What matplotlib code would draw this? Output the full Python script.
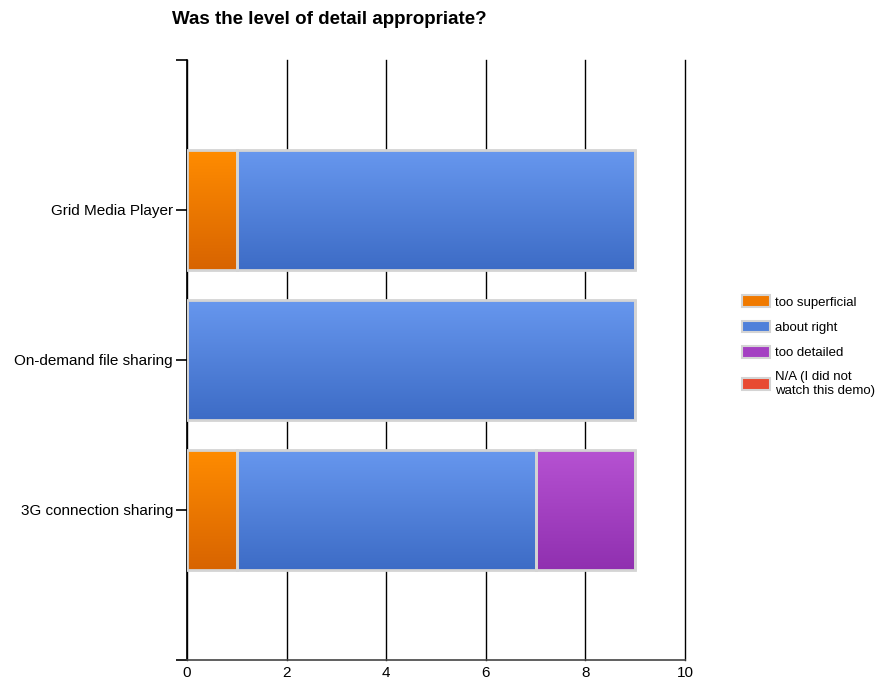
import matplotlib
matplotlib.use("Agg")
import matplotlib.pyplot as plt
import matplotlib.patches as mpatches
from matplotlib.colors import LinearSegmentedColormap
import numpy as np

plt.rcParams['font.family'] = ['Liberation Sans', 'DejaVu Sans']

categories = ["Grid Media Player", "On-demand file sharing", "3G connection sharing"]
series = ["too superficial", "about right", "too detailed", "N/A (I did not\nwatch this demo)"]
too_superficial = [1, 0, 1]
about_right = [8, 9, 6]
too_detailed = [0, 0, 2]
not_watched = [0, 0, 0]

# (top, bottom) gradient colours per series
shades = [("#ff8c00", "#d86400"),
          ("#6797ee", "#3d6cc6"),
          ("#b652d2", "#9030b0"),
          ("#f0553c", "#d83a28")]
legend_colors = ["#f07a00", "#4f80da", "#a440c2", "#e84a32"]

fig = plt.figure(figsize=(8.84, 6.9), dpi=100)
ax = fig.add_axes([187 / 884, 1 - 660 / 690, (685 - 187) / 884, 600 / 690])

ypos = np.arange(1, len(categories) + 1)
left = np.zeros(len(categories))
for vals, (top, bot) in zip([too_superficial, about_right, too_detailed, not_watched], shades):
    bars = ax.barh(ypos, vals, left=left, height=0.8, color=bot,
                   edgecolor="#d4d4d4", linewidth=2, zorder=3)
    cmap = LinearSegmentedColormap.from_list("g", [top, bot])
    for b in bars:
        if b.get_width() <= 0:
            continue
        x0, y0 = b.get_x(), b.get_y()
        im = ax.imshow(np.linspace(0, 1, 64).reshape(-1, 1), cmap=cmap, aspect="auto",
                       extent=[x0, x0 + b.get_width(), y0 + b.get_height(), y0],
                       zorder=2.5, interpolation="bicubic")
        im.set_clip_path(b)
        b.set_facecolor("none")
    left += np.array(vals)

ax.set_xlim(0, 10)
ax.set_ylim(4, 0)
ax.set_xticks([0, 2, 4, 6, 8, 10])
ax.set_yticks([0, 1, 2, 3, 4])
ax.set_yticklabels([""] + categories + [""])
ax.grid(axis="x", color="black", linewidth=1, zorder=0)
for gl in ax.get_xgridlines():
    gl.set_clip_on(False)
ax.set_axisbelow(True)
for s in ["top", "right"]:
    ax.spines[s].set_visible(False)
ax.spines["left"].set_linewidth(1.2)
ax.spines["bottom"].set_linewidth(1.2)
ax.spines["bottom"].set_color("#444444")
ax.tick_params(axis="y", length=8, width=1.2, labelsize=11, pad=2)
ax.tick_params(axis="x", length=0, labelsize=11, pad=4)

fig.text(172 / 884, 1 - 19 / 690, "Was the level of detail appropriate?",
         fontsize=13.5, fontweight="bold", ha="left", va="center")

handles = [mpatches.Patch(facecolor=c, edgecolor="#d4d4d4", linewidth=1.5)
           for c in legend_colors]
fig.legend(handles, series, loc="upper left", bbox_to_anchor=(737 / 884, 1 - 290 / 690),
           frameon=False, fontsize=9.5, handlelength=2.1, handleheight=1.0,
           handletextpad=0.35, labelspacing=0.9, borderaxespad=0)

fig.savefig("out.png", dpi=100)
